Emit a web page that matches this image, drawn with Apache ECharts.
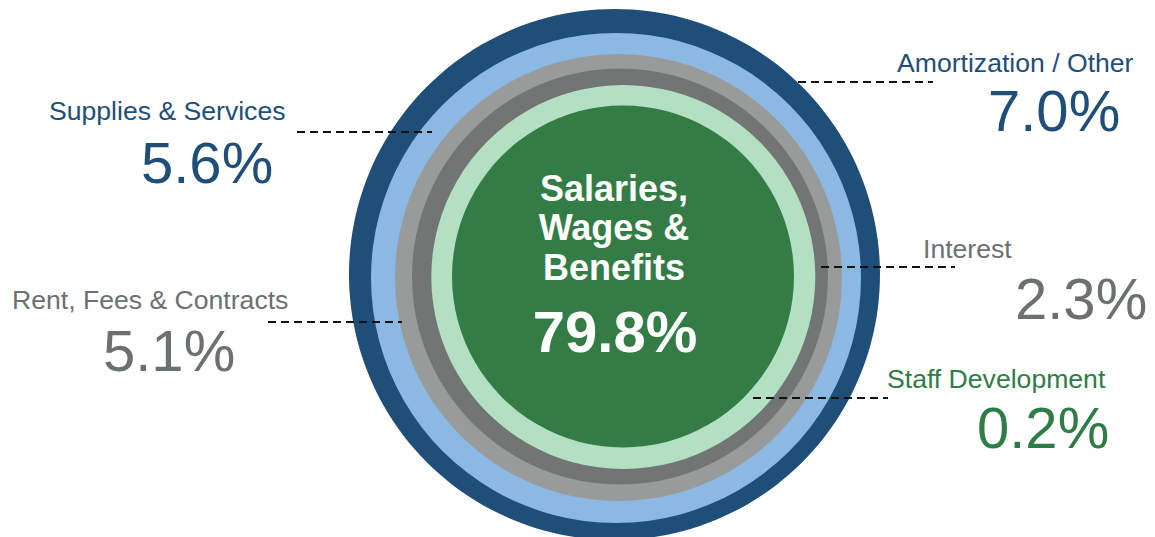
<!DOCTYPE html>
<html>
<head>
<meta charset="utf-8">
<script src="https://cdn.jsdelivr.net/npm/echarts@6/dist/echarts.min.js"></script>
<style>
html,body{margin:0;padding:0;background:#fff;}
#chart{width:1155px;height:537px;}
</style>
</head>
<body>
<div id="chart"></div>
<script>
// ---- data ----
const categories = ['Amortization / Other', 'Supplies & Services', 'Rent, Fees & Contracts', 'Interest', 'Staff Development', 'Salaries, Wages & Benefits'];
const values = [7.0, 5.6, 5.1, 2.3, 0.2, 79.8];
const centerTitleLines = ['Salaries,', 'Wages &', 'Benefits'];

// ---- styles / layout ----
const ringColors = ['#1f4e79', '#8cb9e3', '#999b9b', '#737575', '#b3e0c2', '#347c45'];
const textColors = ['#1f4e79', '#1f4e79', '#6b7070', '#6b7070', '#2e7d46', '#ffffff'];
const ringCenters = [[614.5, 274.5], [616, 278], [618.5, 277.5], [620, 276.5], [623.3, 277], [623, 276.5]];
const ringRadii = [265.5, 245, 223.5, 208, 192, 171];
// label layout: [nameX, nameY, valueX, valueY, line x1, line x2, line y]
const labelLayout = [
  [897, 62.5, 988, 110.5, 798, 933, 82],
  [49, 111, 141, 162, 297, 432, 132],
  [12, 300, 103, 350, 268, 402, 322],
  [923, 249, 1015, 298, 821, 955, 267],
  [887, 379, 977, 427, 753, 888, 398]
];
const FONT = '"Liberation Sans", Arial, Helvetica, sans-serif';

const chart = echarts.init(document.getElementById('chart'), null, {renderer: 'svg'});

const series = categories.map((name, i) => ({
  type: 'pie',
  name: name,
  center: ringCenters[i],
  radius: [0, ringRadii[i]],
  z: 2 + i,
  silent: true,
  animation: false,
  label: {show: false},
  labelLine: {show: false},
  emphasis: {disabled: true},
  itemStyle: {color: ringColors[i], borderWidth: 0},
  data: [{name: name, value: values[i]}]
}));

const graphics = [];
for (let i = 0; i < 5; i++) {
  const L = labelLayout[i];
  graphics.push({
    type: 'line', z: 100, silent: true,
    shape: {x1: L[4], y1: L[6], x2: L[5], y2: L[6]},
    style: {stroke: '#111111', lineWidth: 2, lineDash: [8, 5]}
  });
  graphics.push({
    type: 'text', z: 100, silent: true,
    style: {x: L[0], y: L[1], text: categories[i], fill: textColors[i],
      font: '26.6px ' + FONT, textAlign: 'left', textVerticalAlign: 'middle'}
  });
  graphics.push({
    type: 'text', z: 100, silent: true,
    style: {x: L[2], y: L[3], text: values[i].toFixed(1) + '%', fill: textColors[i],
      font: '58px ' + FONT, textAlign: 'left', textVerticalAlign: 'middle'}
  });
}
const centerYs = [188, 227, 267];
centerTitleLines.forEach((t, k) => {
  graphics.push({
    type: 'text', z: 100, silent: true,
    style: {x: 614, y: centerYs[k], text: t, fill: '#ffffff',
      font: 'bold 36px ' + FONT, textAlign: 'center', textVerticalAlign: 'middle'}
  });
});
graphics.push({
  type: 'text', z: 100, silent: true,
  style: {x: 615, y: 331, text: values[5].toFixed(1) + '%', fill: '#ffffff',
    font: 'bold 58px ' + FONT, textAlign: 'center', textVerticalAlign: 'middle'}
});

chart.setOption({
  backgroundColor: '#ffffff',
  animation: false,
  series: series,
  graphic: {elements: graphics}
});
</script>
</body>
</html>
